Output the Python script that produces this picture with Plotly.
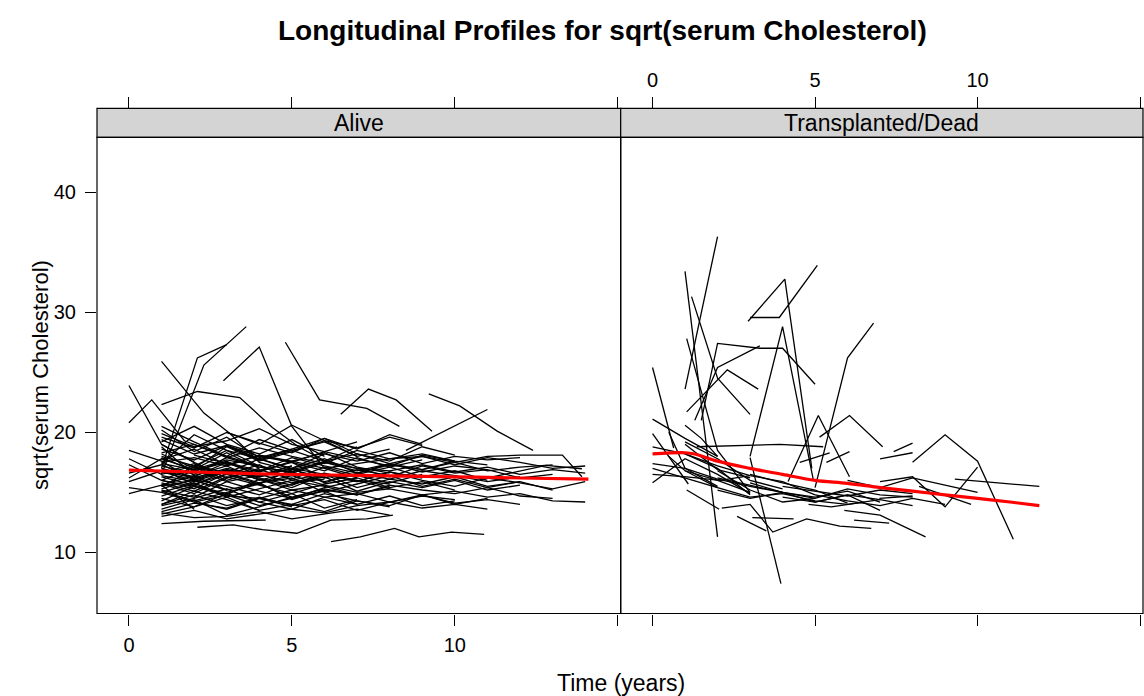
import plotly.graph_objects as go

# ---------------- data ----------------
panel_labels = ["Alive", "Transplanted/Dead"]
x_tick_vals = [0, 5, 10, 15]
x_tick_text = ["0", "5", "10", ""]
y_tick_vals = [10, 20, 30, 40]
y_tick_text = ["10", "20", "30", "40"]

alive_times = [
    [0, 1, 2], [0, 0.7, 1.7, 3, 4], [1, 2.3, 3.1, 4, 5], [1, 2.1, 3.4, 4.4, 5.2, 6.1],
    [1.0, 2.1, 3.0], [1.0, 2.3, 3.6], [2.9, 4.0, 5.0, 6.0, 7.0], [4.8, 5.85, 7.3, 8.3],
    [6.5, 7.35, 8.2, 9.3], [9.2, 10.15, 11.3, 12.4], [1, 2.3, 4.2],
    [2.1, 3.2, 4.1, 5.15, 6.2, 7.3, 8.1], [6.2, 7.1, 8.15, 8.9, 9.9, 10.9],
    [0, 1, 2, 3], [0, 1, 2, 3, 4, 5], [0, 1, 2, 3, 4, 5, 6], [0, 1, 2],
    [1, 2, 3, 4, 5, 6, 7, 8, 9, 10, 11, 12, 13, 14],
    [1, 2, 3, 4, 5, 6, 7, 8, 9, 10, 11, 12, 13.3, 13.9],
    [11, 12.8, 13.9], [8.5, 10, 11],
    [0, 1, 2, 3, 4], [0, 1, 2, 3, 4, 5, 6, 7, 8], [1, 2, 3, 4, 5, 6, 7, 8, 9, 10],
    [1, 2, 3, 4, 5, 6], [1, 2, 3, 4, 5, 6, 7, 8, 9, 10, 11, 12], [1, 2, 3, 4, 5, 6, 7],
    [1, 2, 3, 4, 5, 6, 7, 8, 9, 10, 11, 12, 13], [1, 2, 3, 4, 5], [1, 2, 3, 4, 5, 6, 7, 8, 9, 10],
    [1, 2, 3, 4, 5, 6, 7, 8], [1, 2, 3], [1, 2, 3, 4, 5, 6, 7, 8, 9, 10, 11], [1, 2, 3, 4, 5, 6],
    [1, 2, 3, 4, 5, 6, 7, 8, 9], [2, 3, 4, 5, 6, 7, 8, 9, 10, 11, 12, 13], [1, 2, 3, 4],
    [1, 2, 3, 4, 5, 6, 7, 8], [1, 2, 3, 4, 5, 6, 7, 8, 9, 10, 11, 12], [0, 1, 2, 3, 4, 5, 6, 7],
    [1, 2, 3, 4, 5, 6, 7, 8, 9], [1, 2, 3, 4, 5], [1, 2, 3, 4, 5, 6, 7, 8, 9, 10, 11, 12, 13],
    [1, 2, 3, 4, 5, 6, 7], [1, 2, 3, 4, 5, 6, 7, 8, 9, 10], [2, 3, 4, 5, 6, 7, 8, 9, 10, 11, 12],
    [1, 2, 3, 4, 5, 6], [1, 2, 3, 4, 5, 6, 7, 8, 9, 10, 11], [1, 2, 3, 4, 5, 6, 7, 8], [1, 2, 3, 4],
    [1, 2, 3, 4, 5, 6, 7, 8, 9, 10, 11, 12, 13, 14], [1, 2, 3, 4, 5, 6, 7, 8, 9], [1, 2, 3, 4, 5, 6, 7],
    [3, 4, 5, 6, 7, 8, 9, 10], [1, 2, 3, 4, 5, 6, 7, 8, 9, 10, 11, 12], [1, 2, 3, 4, 5],
    [5, 6, 7, 8, 9, 10, 11, 12, 13], [1, 2, 3, 4, 5, 6, 7, 8], [1, 2, 3, 4, 5, 6, 7, 8, 9, 10],
    [1, 2, 3, 4, 5, 6], [2, 3, 4, 5, 6, 7, 8, 9, 10, 11], [1, 2, 3, 4, 5, 6, 7],
    [0, 1, 2, 3, 4, 5, 6, 7, 8, 9], [1, 2, 3, 4, 5, 6, 7, 8, 9, 10, 11, 12, 13, 14], [1, 2, 3, 4],
    [3, 4, 5, 6, 7, 8, 9], [1, 2, 3, 4, 5, 6, 7, 8, 9, 10], [1, 2, 3, 4, 5, 6, 7, 8], [1, 2, 3, 4, 5],
    [1, 2, 3, 4, 5, 6, 7, 8, 9, 10, 11], [6, 7, 8, 9, 10, 11, 12, 13, 14], [1, 2, 3, 4, 5, 6, 7],
    [1, 2, 3, 4, 5, 6, 7, 8, 9, 10, 11, 12], [1, 2, 3], [2, 3, 4, 5, 6, 7, 8],
    [1, 2, 3, 4, 5, 6, 7, 8], [1, 2, 3, 4, 5, 6, 7, 8, 9, 10, 11],
]
alive_values = [
    [23.9, 19.0, 17.5], [20.8, 22.7, 19.3, 18.0, 17.2], [25.9, 21.6, 19.9, 17.5, 16.8],
    [22.3, 23.4, 22.9, 20.4, 18.8, 17.5],
    [17.0, 26.2, 27.3], [16.5, 25.6, 28.8], [24.3, 27.1, 20.5, 17.0, 16.2], [27.5, 22.7, 22.0, 20.5],
    [21.5, 23.6, 22.7, 20.1], [23.2, 22.2, 20.1, 18.5], [12.4, 12.6, 12.7],
    [12.1, 12.3, 11.9, 11.6, 12.7, 12.8, 13.1], [10.9, 11.3, 12.0, 11.3, 11.7, 11.5],
    [18.5, 17.6, 16.0, 15.2], [17.3, 16.0, 15.5, 14.7, 14.5, 13.8], [15.9, 16.8, 16.2, 17.0, 16.5, 15.8, 16.1],
    [14.9, 15.6, 13.6],
    [15.5, 16.0, 15.2, 15.8, 16.4, 15.6, 15.0, 15.3, 14.8, 15.1, 14.6, 14.9, 14.3, 14.2],
    [17.5, 17.9, 17.2, 18.1, 17.6, 17.0, 17.4, 17.8, 18.0, 17.5, 18.0, 18.1, 18.1, 16.3],
    [16.2, 17.25, 16.97], [18.5, 20.5, 21.9],
    [16.2, 17.8, 16.9, 18.3, 17.0], [17.8, 16.5, 17.2, 16.0, 16.8, 17.5, 16.2, 16.9, 16.4],
    [14.0, 14.8, 13.9, 14.5, 15.2, 14.6, 14.9, 14.2, 14.7, 14.4],
    [19.2, 20.5, 19.0, 18.2, 19.4, 18.0],
    [16.0, 15.3, 16.6, 15.8, 16.2, 15.0, 15.7, 16.4, 15.5, 16.1, 15.4, 15.9],
    [18.2, 17.0, 18.8, 17.6, 18.4, 19.3, 18.0],
    [15.0, 15.8, 14.6, 15.3, 16.0, 15.5, 14.8, 15.6, 15.2, 14.9, 15.4, 14.7, 14.5],
    [20.2, 18.4, 19.6, 17.9, 18.6], [17.0, 16.3, 17.5, 16.8, 17.9, 17.2, 16.6, 17.4, 16.9, 17.6],
    [13.2, 13.8, 14.6, 13.5, 14.0, 14.9, 14.3, 13.8], [18.8, 16.4, 15.2],
    [15.6, 16.4, 17.2, 16.0, 16.7, 15.9, 16.5, 17.1, 16.3, 16.8, 16.0], [14.3, 15.5, 14.8, 16.1, 15.2, 15.6],
    [19.6, 18.7, 20.0, 19.1, 18.3, 19.5, 18.6, 19.8, 19.0],
    [16.8, 17.5, 16.4, 17.0, 17.8, 16.6, 17.3, 16.9, 17.5, 16.8, 17.1, 17.3], [17.4, 19.8, 18.5, 17.2],
    [15.2, 14.6, 15.9, 15.1, 14.5, 15.4, 16.0, 15.3],
    [18.0, 17.2, 18.5, 17.8, 17.0, 18.2, 17.6, 18.3, 17.4, 18.0, 17.7, 17.9],
    [15.4, 15.0, 14.2, 14.8, 13.9, 14.5, 15.1, 14.0],
    [16.6, 17.4, 16.2, 16.9, 16.1, 17.1, 16.4, 15.8, 16.5], [13.6, 14.4, 13.1, 13.8, 14.6],
    [17.2, 16.5, 17.9, 17.1, 16.7, 17.6, 17.0, 16.3, 17.2, 16.6, 16.9, 16.2, 16.5],
    [20.5, 19.2, 18.0, 19.4, 18.5, 17.6, 18.8],
    [15.8, 15.1, 16.3, 15.6, 14.9, 15.7, 16.2, 15.4, 15.9, 15.2],
    [14.2, 13.6, 14.5, 14.0, 13.4, 14.3, 13.9, 14.8, 14.1, 14.4, 14.0],
    [16.9, 15.7, 16.5, 17.3, 16.0, 16.6],
    [18.6, 17.7, 18.9, 18.0, 17.5, 18.4, 17.8, 17.2, 18.1, 17.6, 17.3],
    [14.7, 15.6, 14.9, 15.8, 14.4, 15.2, 14.8, 15.5], [19.0, 17.5, 16.2, 17.0],
    [16.3, 15.6, 16.8, 16.1, 15.4, 16.5, 15.9, 16.7, 16.0, 15.5, 16.2, 15.8, 15.3, 15.9],
    [17.7, 18.6, 17.3, 18.1, 17.5, 16.8, 17.9, 17.1, 17.7], [13.9, 14.5, 15.3, 14.2, 14.9, 13.7, 14.4],
    [18.9, 17.8, 18.6, 19.5, 18.2, 17.6, 18.8, 18.1],
    [15.3, 16.1, 15.5, 14.8, 15.7, 16.3, 15.1, 15.9, 15.4, 16.0, 15.2, 15.6], [17.9, 16.8, 17.6, 16.4, 17.2],
    [15.8, 16.5, 15.4, 16.1, 15.7, 16.3, 15.5, 15.9, 15.2], [19.4, 18.2, 18.9, 17.7, 18.5, 19.2, 18.0, 18.6],
    [14.5, 13.8, 14.9, 14.2, 13.6, 14.6, 14.0, 14.7, 13.9, 14.3],
    [16.0, 17.1, 16.5, 15.7, 16.9, 16.2], [17.3, 16.6, 17.8, 16.9, 17.5, 16.8, 17.4, 16.7, 17.2, 16.9],
    [15.1, 14.3, 15.0, 15.7, 14.6, 15.3, 14.8],
    [16.6, 17.3, 16.1, 16.9, 16.3, 17.0, 16.5, 15.9, 16.7, 16.2],
    [17.4, 16.9, 17.7, 17.2, 16.6, 17.5, 17.0, 16.8, 17.3, 16.7, 17.1, 16.5, 16.9, 16.6],
    [14.0, 15.1, 14.4, 13.5],
    [20.0, 19.0, 20.6, 19.3, 18.7, 19.6, 18.9],
    [18.3, 19.0, 17.9, 18.7, 18.0, 17.4, 18.5, 17.8, 18.2, 17.6],
    [16.4, 15.9, 16.8, 16.2, 15.6, 16.6, 16.0, 15.7], [15.5, 16.9, 15.9, 16.4, 17.2],
    [13.4, 14.1, 13.7, 14.6, 13.9, 14.4, 13.5, 14.2, 14.8, 14.0, 14.5],
    [17.6, 18.2, 17.4, 18.0, 17.3, 17.9, 17.5, 17.0, 17.2],
    [19.9, 18.8, 19.3, 20.3, 19.0, 18.4, 19.2],
    [16.7, 16.0, 16.9, 16.3, 17.0, 15.8, 16.6, 16.1, 16.8, 16.4, 15.9, 16.3], [15.7, 14.9, 16.2],
    [18.1, 17.4, 16.7, 17.6, 18.3, 17.1, 16.6],
    [13.3, 12.9, 13.0, 13.4, 12.8, 13.2, 13.6, 13.1],
    [13.0, 13.5, 12.8, 13.2, 13.6, 13.3, 13.9, 14.2, 13.7, 14.0, 13.6],
]

dead_times = [
    [0, 0.65], [0, 1.0, 2.0], [1.0, 2.0], [1.0, 2.0], [1.05, 2.0, 3.0], [1.2, 2.0, 3.0],
    [1.5, 2.0, 3.3, 4.0, 5.0], [1.05, 2.3, 3.25], [1.3, 2.0, 3.3], [2.94, 4.07, 4.9],
    [3.0, 3.9, 5.07], [3.0, 4.0, 4.95], [3.0, 3.95], [5.0, 6.0, 6.8], [4.17, 5.1, 6.06],
    [5.14, 6.06, 7.08], [7.42, 8.0], [8.0, 9.0, 10.0, 11.1], [7.0, 8.0], [9.3, 11.9],
    [7.0, 8.0, 9.0, 10.0], [5.9, 7.0, 8.4], [2.13, 3.0, 3.7, 4.74, 5.76, 6.73], [2.6, 3.5],
    [3.07, 4.34], [1.36, 3.92, 5.25], [4.53, 5.45], [5.35, 6.06], [6.2, 7.28], [0, 1.1],
    [0, 1.05, 2.08, 3.0], [1.05, 2.05], [0, 1, 2, 3, 4], [0, 1, 2, 3], [1, 2, 3, 4, 5, 6, 7],
    [2, 3, 4, 5, 6, 7], [3, 4, 5, 6, 7, 8], [4, 5, 6, 7], [1, 2, 3, 4], [0.5, 1.0, 2.0],
    [6.98, 8.0], [8.2, 9.8], [2, 3, 4, 5], [4.8, 5.5, 6.5], [1, 1.5, 2],
    [0, 1, 2], [0, 1, 2, 3], [1, 2, 3, 4, 5], [2, 3, 4, 5, 6, 7, 8], [4, 5, 6, 7, 8],
    [5, 6, 7, 8, 9], [1, 2, 3], [6, 7, 8, 9, 10], [0.5, 1, 2, 3], [3, 4, 5, 6],
]
dead_values = [
    [25.4, 18.7], [21.1, 19.5, 18.0], [33.4, 11.3], [23.6, 36.3], [27.8, 18.5, 15.0], [31.3, 24.5, 21.5],
    [21.0, 27.4, 27.0, 27.0, 24.0], [21.7, 25.2, 23.6], [21.0, 25.4, 27.2], [29.25, 32.75, 17.0],
    [29.56, 29.56, 33.9], [18.0, 28.8, 16.0], [17.9, 7.4], [15.4, 26.2, 29.1], [15.9, 21.4, 16.3],
    [19.6, 21.4, 18.8], [18.4, 19.1], [17.5, 19.8, 17.6, 11.1], [17.8, 18.3], [16.1, 15.5],
    [15.9, 16.3, 13.8, 17.1], [13.5, 13.1, 11.3], [13.7, 14.0, 11.7, 12.8, 12.2, 12.0], [13.0, 11.8],
    [12.9, 12.8], [18.8, 19.0, 18.8], [17.5, 18.3], [17.5, 18.4], [12.7, 12.45], [19.9, 15.7],
    [16.5, 16.3, 16.0, 16.4], [15.2, 13.6], [17.4, 17.0, 16.1, 15.5, 15.0], [18.8, 18.2, 17.0, 14.8],
    [16.8, 15.4, 14.6, 14.9, 14.3, 14.0, 14.4],
    [15.2, 14.5, 15.0, 14.6, 15.1, 14.2], [15.8, 15.0, 14.5, 15.3, 14.8, 14.6], [14.6, 14.2, 14.8, 13.5],
    [19.2, 17.8, 16.0, 15.3], [20.0, 17.0, 15.5],
    [14.5, 14.7], [15.5, 14.0], [16.8, 15.2, 14.2, 14.5], [14.0, 13.8, 14.2], [20.6, 19.5, 18.0],
    [17.0, 16.2, 15.4], [15.8, 17.8, 16.5, 14.9], [18.2, 17.2, 16.4, 15.9, 14.8],
    [16.2, 15.6, 15.0, 14.2, 14.8, 14.4, 13.9], [15.5, 15.1, 14.7, 15.2, 14.9],
    [14.8, 14.3, 13.9, 14.5, 14.0], [19.0, 16.9, 16.2], [16.0, 15.4, 16.2, 15.6, 15.0],
    [18.0, 16.8, 16.0, 15.0], [16.5, 15.8, 15.2, 14.1],
]

alive_smooth_x = [0, 2, 4, 6, 8, 10, 12, 14.1]
alive_smooth_y = [16.85, 16.7, 16.55, 16.45, 16.38, 16.3, 16.2, 16.1]
dead_smooth_x = [0, 1, 1.3, 2, 3, 4, 5, 6, 7, 8, 9, 10, 11, 11.9]
dead_smooth_y = [18.2, 18.3, 18.2, 17.6, 17.0, 16.5, 16.0, 15.75, 15.4, 15.1, 14.8, 14.5, 14.2, 13.9]

# ---------------- layout geometry (pixels) ----------------
W, H = 1144, 696
FONT = "Liberation Sans, Arial, Helvetica, sans-serif"
LEFT, MID, RIGHT = 97, 620.7, 1143
PANEL_TOP, PANEL_BOT, STRIP_TOP = 137.3, 613.5, 108.3


def px(x):
    return x / W


def py(y):
    return 1 - y / H


def flat(times, values):
    xs, ys = [], []
    for t, v in zip(times, values):
        xs += list(t) + [None]
        ys += list(v) + [None]
    return xs, ys


fig = go.Figure()
ax, ay = flat(alive_times, alive_values)
dx, dy = flat(dead_times, dead_values)
fig.add_trace(go.Scatter(x=ax, y=ay, mode="lines", line=dict(color="black", width=1.3),
                         xaxis="x", yaxis="y", showlegend=False, connectgaps=False, hoverinfo="skip"))
fig.add_trace(go.Scatter(x=dx, y=dy, mode="lines", line=dict(color="black", width=1.3),
                         xaxis="x2", yaxis="y", showlegend=False, connectgaps=False, hoverinfo="skip"))
fig.add_trace(go.Scatter(x=alive_smooth_x, y=alive_smooth_y, mode="lines",
                         line=dict(color="#FF0000", width=3.2, shape="spline"),
                         xaxis="x", yaxis="y", showlegend=False))
fig.add_trace(go.Scatter(x=dead_smooth_x, y=dead_smooth_y, mode="lines",
                         line=dict(color="#FF0000", width=3.2, shape="spline"),
                         xaxis="x2", yaxis="y", showlegend=False))

xr = [-0.98, 15.09]
tickfont = dict(family=FONT, size=20, color="black")
common_x = dict(range=xr, tickmode="array", tickvals=x_tick_vals, ticktext=x_tick_text,
                ticks="outside", ticklen=11, tickwidth=1, tickcolor="black",
                showgrid=False, zeroline=False, showline=False, tickfont=tickfont, fixedrange=True)

fig.update_layout(
    width=W, height=H, margin=dict(l=0, r=0, t=0, b=0),
    paper_bgcolor="white", plot_bgcolor="white", showlegend=False,
    xaxis=dict(domain=[px(LEFT), px(MID)], anchor="y", ticklabelstandoff=2, **common_x),
    xaxis2=dict(domain=[px(MID), px(RIGHT)], anchor="y", showticklabels=False, **common_x),
    xaxis3=dict(domain=[px(LEFT), px(MID)], overlaying="x", side="top", anchor="free",
                position=py(STRIP_TOP), showticklabels=False, **common_x),
    xaxis4=dict(domain=[px(MID), px(RIGHT)], overlaying="x2", side="top", anchor="free",
                position=py(STRIP_TOP), ticklabelstandoff=2, **common_x),
    yaxis=dict(domain=[py(PANEL_BOT), py(PANEL_TOP)], range=[4.92, 44.56], anchor="x",
               tickmode="array", tickvals=y_tick_vals, ticktext=y_tick_text,
               ticks="outside", ticklen=11, tickwidth=1, tickcolor="black", ticklabelstandoff=5,
               showgrid=False, zeroline=False, showline=False, tickfont=tickfont, fixedrange=True),
)
# dummy traces so top axes render
fig.add_trace(go.Scatter(x=[None], y=[None], xaxis="x3", yaxis="y", showlegend=False))
fig.add_trace(go.Scatter(x=[None], y=[None], xaxis="x4", yaxis="y", showlegend=False))

shapes = []
for x0, x1 in [(LEFT, MID), (MID, RIGHT)]:
    shapes.append(dict(type="rect", xref="paper", yref="paper", x0=px(x0), x1=px(x1),
                       y0=py(PANEL_TOP), y1=py(STRIP_TOP), fillcolor="#D4D4D4",
                       line=dict(color="black", width=1.2), layer="below"))
    shapes.append(dict(type="rect", xref="paper", yref="paper", x0=px(x0), x1=px(x1),
                       y0=py(PANEL_BOT), y1=py(PANEL_TOP), fillcolor="rgba(0,0,0,0)",
                       line=dict(color="black", width=1.2), layer="above"))
fig.update_layout(shapes=shapes)

ann = []
for i, (x0, x1) in enumerate([(LEFT, MID), (MID, RIGHT)]):
    ann.append(dict(text=panel_labels[i], xref="paper", yref="paper", x=px((x0 + x1) / 2),
                    y=py((STRIP_TOP + PANEL_TOP) / 2), xanchor="center", yanchor="middle",
                    showarrow=False, font=dict(family=FONT, size=23, color="black")))
ann.append(dict(text="<b>Longitudinal Profiles for sqrt(serum Cholesterol)</b>", xref="paper",
                yref="paper", x=px(602), y=py(31), xanchor="center", yanchor="middle",
                showarrow=False, font=dict(family=FONT, size=28, color="black")))
ann.append(dict(text="Time (years)", xref="paper", yref="paper", x=px(621), y=py(683),
                xanchor="center", yanchor="middle", showarrow=False,
                font=dict(family=FONT, size=23, color="black")))
ann.append(dict(text="sqrt(serum Cholesterol)", xref="paper", yref="paper", x=px(40), y=py(375),
                xanchor="center", yanchor="middle", textangle=-90, showarrow=False,
                font=dict(family=FONT, size=22, color="black")))
fig.update_layout(annotations=ann)

fig.write_html("out.html")
